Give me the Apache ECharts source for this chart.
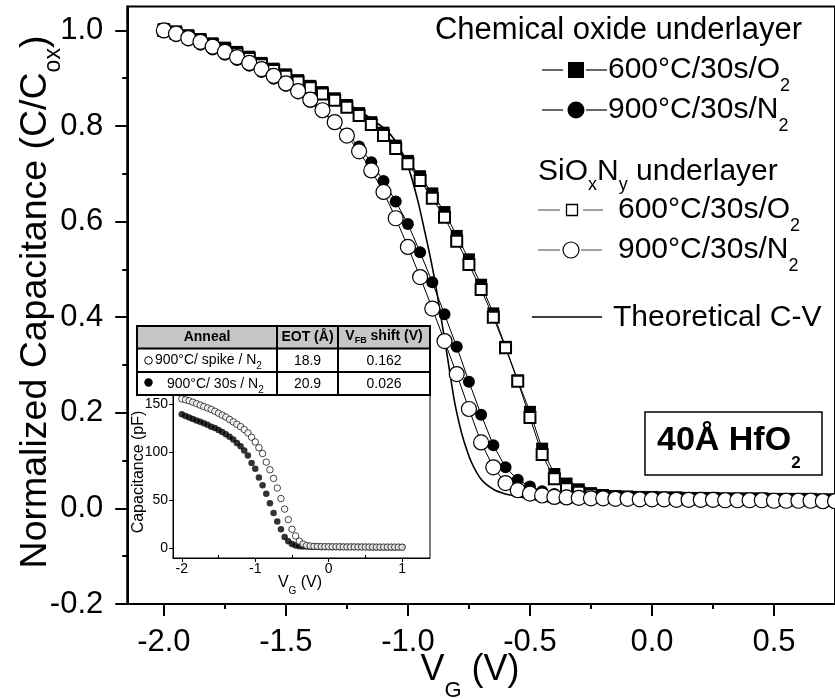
<!DOCTYPE html>
<html><head><meta charset="utf-8">
<script src="https://cdn.jsdelivr.net/npm/echarts@6/dist/echarts.min.js"></script>
<style>html,body{margin:0;padding:0;background:#fff}#c{width:835px;height:699px}</style>
</head><body><div id="c"></div>
<script>
// ---------------- DATA ----------------
const vg = [-2.00,-1.95,-1.90,-1.85,-1.80,-1.75,-1.70,-1.65,-1.60,-1.55,
  -1.50,-1.45,-1.40,-1.35,-1.30,-1.25,-1.20,-1.15,-1.10,-1.05,
  -1.00,-0.95,-0.90,-0.85,-0.80,-0.75,-0.70,-0.65,-0.60,-0.55,
  -0.50,-0.45,-0.40,-0.35,-0.30,-0.25,-0.20,-0.15,-0.10,-0.05,
  0.00,0.05,0.10,0.15,0.20,0.25,0.30,0.35,0.40,0.45,
  0.50,0.55,0.60,0.65,0.70,0.75];
// Chemical oxide underlayer 600°C/30s/O2 (filled squares)
const chemO2 = [1.003,0.998,0.990,0.982,0.973,0.964,0.955,0.945,0.932,0.920,
  0.908,0.896,0.884,0.871,0.858,0.844,0.827,0.808,0.786,0.759,
  0.727,0.695,0.659,0.620,0.570,0.521,0.468,0.408,0.338,0.268,
  0.202,0.125,0.072,0.052,0.040,0.032,0.028,0.026,0.025,0.024,
  0.024,0.023,0.023,0.022,0.022,0.022,0.021,0.021,0.021,0.021,
  0.020,0.020,0.020,0.020,0.019,0.019];
// Chemical oxide underlayer 900°C/30s/N2 (filled circles)
const chemN2 = [0.996,0.988,0.979,0.970,0.960,0.949,0.938,0.926,0.913,0.899,
  0.884,0.868,0.850,0.829,0.806,0.783,0.757,0.724,0.685,0.642,
  0.595,0.536,0.473,0.406,0.338,0.265,0.196,0.132,0.086,0.060,
  0.046,0.036,0.030,0.027,0.025,0.024,0.023,0.022,0.022,0.021,
  0.021,0.020,0.020,0.020,0.019,0.019,0.019,0.019,0.018,0.018,
  0.018,0.018,0.017,0.017,0.017,0.017];
// SiOxNy underlayer 600°C/30s/O2 (open squares)
const sioxnyO2 = [1.000,0.994,0.986,0.978,0.969,0.960,0.951,0.941,0.928,0.916,
  0.904,0.892,0.880,0.867,0.854,0.839,0.822,0.803,0.780,0.753,
  0.721,0.686,0.649,0.609,0.559,0.510,0.458,0.400,0.336,0.266,
  0.190,0.113,0.062,0.041,0.034,0.028,0.025,0.024,0.023,0.022,
  0.022,0.021,0.021,0.020,0.020,0.020,0.019,0.019,0.019,0.019,
  0.018,0.018,0.018,0.018,0.017,0.017];
// SiOxNy underlayer 900°C/30s/N2 (open circles)
const sioxnyN2 = [1.000,0.993,0.984,0.976,0.966,0.955,0.944,0.932,0.919,0.905,
  0.889,0.873,0.855,0.833,0.808,0.780,0.747,0.707,0.662,0.607,
  0.547,0.484,0.418,0.350,0.281,0.208,0.138,0.086,0.053,0.038,
  0.031,0.027,0.024,0.023,0.022,0.021,0.021,0.020,0.020,0.019,
  0.019,0.019,0.018,0.018,0.018,0.018,0.017,0.017,0.017,0.017,
  0.016,0.016,0.016,0.016,0.015,0.015];
// Theoretical C-V
const vgTheory = [-2.0,-1.8,-1.6,-1.4,-1.3,-1.2,-1.1,-1.05,-1.0,-0.96,-0.93,-0.91,-0.89,-0.87,-0.85,
  -0.83,-0.81,-0.79,-0.77,-0.74,-0.70,-0.65,-0.60,-0.55,-0.50,-0.40,-0.20,0.0,0.4,0.75];
const cTheory = [1.000,0.970,0.932,0.888,0.862,0.832,0.796,0.768,0.716,0.645,0.577,0.530,0.478,0.417,0.355,
  0.290,0.226,0.178,0.140,0.097,0.061,0.040,0.030,0.025,0.020,0.013,0.012,0.012,0.011,0.011];

// Inset data
const vgInset = [-2.00,-1.95,-1.90,-1.85,-1.80,-1.75,-1.70,-1.65,-1.60,-1.55,
  -1.50,-1.45,-1.40,-1.35,-1.30,-1.25,-1.20,-1.15,-1.10,-1.05,
  -1.00,-0.95,-0.90,-0.85,-0.80,-0.75,-0.70,-0.65,-0.60,-0.55,
  -0.50,-0.45,-0.40,-0.35,-0.30,-0.25,-0.20,-0.15,-0.10,-0.05,
  0.00,0.05,0.10,0.15,0.20,0.25,0.30,0.35,0.40,0.45,
  0.50,0.55,0.60,0.65,0.70,0.75,0.80,0.85,0.90,0.95,1.00];
const capSpike = [156,155,154,152.5,151,149.5,148,146.5,145,143,
  141,139,137,134.5,132,129.5,127,124,120.5,116,
  111,105,99,90,82,73,63,52,41,30,
  20,13,7.5,4.5,3,2.5,2.2,2,1.9,1.8,
  1.8,1.7,1.7,1.7,1.6,1.6,1.6,1.6,1.5,1.5,
  1.5,1.5,1.5,1.4,1.4,1.4,1.4,1.4,1.4,1.4,1.3];
const cap30s = [140,138,136.5,135,133.5,132,130.5,129,127,125.5,
  123.5,121.5,119,116.5,113.5,110,106.5,102,97,89,
  83,74,66,57,47,37,28,20,12,7.5,
  4.5,3,2.3,2,1.9,1.8,1.7,1.7,1.6,1.6,
  1.6,1.5,1.5,1.5,1.5,1.4,1.4,1.4,1.4,1.4,
  1.4,1.3,1.3,1.3,1.3,1.3,1.3,1.3,1.3,1.3,1.3];

// Ticks
const xMajor = [-2.0,-1.5,-1.0,-0.5,0.0,0.5];
const xMinor = [-1.75,-1.25,-0.75,-0.25,0.25];
const yMajor = [-0.2,0.0,0.2,0.4,0.6,0.8,1.0];
const yMinor = [-0.1,0.1,0.3,0.5,0.7,0.9];
const xInsetMajor = [-2,-1,0,1];
const xInsetMinor = [-1.5,-0.5,0.5];
const yInsetMajor = [0,50,100,150];

// ---------------- CHART ----------------
const FONT = 'Liberation Sans, Arial, sans-serif';
const pairs = (xs, ys) => xs.map((v, i) => [v, ys[i]]);

function rt(x, y, text, size, subSize, subPad, align, extra) {
  return Object.assign({
    type: 'text', x: x, y: y, z: 100, silent: true,
    style: {
      text: text, fill: '#000', fontFamily: FONT, fontSize: size,
      align: align || 'left', verticalAlign: 'top',
      rich: {
        a: {fontSize: size, lineHeight: size, verticalAlign: 'top', fontFamily: FONT, fill: '#000'},
        b: {fontSize: size, lineHeight: size, verticalAlign: 'top', fontFamily: FONT, fill: '#000', fontWeight: 'bold'},
        s: {fontSize: subSize, lineHeight: subSize, padding: [subPad, 0, 0, 0], verticalAlign: 'top', fontFamily: FONT, fill: '#000'},
        sb: {fontSize: subSize, lineHeight: subSize, padding: [subPad, 0, 0, 0], verticalAlign: 'top', fontFamily: FONT, fill: '#000', fontWeight: 'bold'}
      }
    }
  }, extra || {});
}
function hline(x1, x2, y, w, c, z) {
  return {type: 'line', z: z || 100, silent: true, shape: {x1: x1, y1: y, x2: x2, y2: y}, style: {stroke: c || '#000', lineWidth: w || 1}};
}
function vline(x, y1, y2, w, z) {
  return {type: 'line', z: z || 100, silent: true, shape: {x1: x, y1: y1, x2: x, y2: y2}, style: {stroke: '#000', lineWidth: w || 1}};
}
function plain(x, y, text, size, opts) {
  return {type: 'text', x: x, y: y, z: 103, silent: true,
    style: Object.assign({text: text, fontFamily: FONT, fontSize: size, fill: '#000', align: 'center', verticalAlign: 'middle'}, opts || {})};
}

const insetYTitle = plain(139, 472, 'Capacitance (pF)', 16, {});
insetYTitle.rotation = Math.PI / 2;
insetYTitle.z = 100;

const graphics = [
  // Legend
  {type: 'text', x: 802, y: 15, z: 100, silent: true, style: {text: 'Chemical oxide underlayer', fontFamily: FONT, fontSize: 31, fill: '#000', align: 'right', verticalAlign: 'top', lineHeight: 31}},
  hline(542, 563, 70, 1.2), hline(586, 607, 70, 1.2),
  {type: 'rect', z: 100, silent: true, shape: {x: 568, y: 62, width: 16, height: 16}, style: {fill: '#000'}},
  rt(608, 54.4, '{a|600°C/30s/O}{s|2}', 30, 18, 23),
  hline(542, 563, 110, 1.2), hline(586, 607, 110, 1.2),
  {type: 'circle', z: 100, silent: true, shape: {cx: 576, cy: 110, r: 8.5}, style: {fill: '#000'}},
  rt(608, 94.4, '{a|900°C/30s/N}{s|2}', 30, 18, 23),
  rt(538, 156.4, '{a|SiO}{s|x}{a|N}{s|y}{a| underlayer}', 30, 18, 20),
  hline(538, 560, 210, 1, '#444'), hline(583, 603, 210, 1, '#444'),
  {type: 'rect', z: 100, silent: true, shape: {x: 566.5, y: 204.5, width: 11, height: 11}, style: {fill: '#fff', stroke: '#000', lineWidth: 1.3}},
  rt(618, 194.4, '{a|600°C/30s/O}{s|2}', 30, 18, 23),
  hline(538, 560, 250, 1, '#444'), hline(581, 602, 250, 1, '#444'),
  {type: 'circle', z: 100, silent: true, shape: {cx: 571, cy: 250, r: 8}, style: {fill: '#fff', stroke: '#000', lineWidth: 1.2}},
  rt(618, 234.4, '{a|900°C/30s/N}{s|2}', 30, 18, 23),
  hline(532, 602, 317, 1.5),
  {type: 'text', x: 613, y: 302.4, z: 100, silent: true, style: {text: 'Theoretical C-V', fontFamily: FONT, fontSize: 30, fill: '#000', align: 'left', verticalAlign: 'top', lineHeight: 30}},
  // 40Å HfO2 box
  {type: 'rect', z: 100, silent: true, shape: {x: 645, y: 412, width: 177, height: 63}, style: {fill: '#fff', stroke: '#000', lineWidth: 1.5}},
  rt(657, 423.5, '{b|40Å HfO}{sb|2}', 34, 17, 31),
  // Axis titles
  rt(17, 302, '{a|Normalized Capacitance (C/C}{s|ox}{a|)}', 37.5, 23, 25, 'center', {rotation: Math.PI / 2}),
  rt(470, 652, '{a|V}{s|G}{a| (V)}', 36, 22, 28, 'center'),
  // Inset table
  {type: 'rect', z: 100, silent: true, shape: {x: 137, y: 326, width: 293, height: 22}, style: {fill: '#c6c6c6'}},
  {type: 'rect', z: 101, silent: true, shape: {x: 137, y: 349, width: 293, height: 46}, style: {fill: '#fff'}},
  {type: 'rect', z: 102, silent: true, shape: {x: 137, y: 326, width: 293, height: 69}, style: {fill: 'none', stroke: '#000', lineWidth: 2}},
  hline(137, 430, 348.5, 2, '#000', 102), hline(137, 430, 372, 2, '#000', 102),
  vline(277, 326, 395, 2, 102), vline(338, 326, 395, 2, 102),
  plain(207, 337.5, 'Anneal', 14, {fontWeight: 'bold'}),
  plain(307.5, 337.5, 'EOT (Å)', 14, {fontWeight: 'bold'}),
  Object.assign(rt(384, 329.5, '{b|V}{sb|FB}{b| shift (V)}', 14, 9, 7, 'center'), {z: 103}),
  {type: 'circle', z: 103, silent: true, shape: {cx: 148.5, cy: 360.5, r: 3.8}, style: {fill: '#fff', stroke: '#000', lineWidth: 1}},
  Object.assign(rt(155, 353.5, '{a|900°C/ spike / N}{s|2}', 14, 10, 8), {z: 103}),
  {type: 'circle', z: 103, silent: true, shape: {cx: 148.5, cy: 382.5, r: 4.2}, style: {fill: '#000'}},
  Object.assign(rt(167, 377, '{a|900°C/ 30s / N}{s|2}', 14, 10, 8), {z: 103}),
  plain(307.5, 361, '18.9', 14), plain(384, 361, '0.162', 14),
  plain(307.5, 384, '20.9', 14), plain(384, 384, '0.026', 14),
  // Inset axis titles
  insetYTitle,
  rt(300, 575, '{a|V}{s|G}{a| (V)}', 16, 10, 11, 'center')
];

const chart = echarts.init(document.getElementById('c'), null, {renderer: 'canvas'});
const black = '#000';
chart.setOption({
  animation: false,
  backgroundColor: '#fff',
  grid: [
    {left: 127.25, top: 6.5, width: 710.5, height: 597.5, show: true, borderColor: black, borderWidth: 2, backgroundColor: 'transparent'},
    {left: 173, top: 395, width: 257, height: 163, show: true, borderColor: black, borderWidth: 1, backgroundColor: '#fff', z: 5}
  ],
  xAxis: [
    {type: 'value', gridIndex: 0, min: -2.15, max: 0.75, position: 'bottom', splitLine: {show: false},
      axisLine: {onZero: false, lineStyle: {color: black, width: 2}},
      axisTick: {customValues: xMajor, length: 12, lineStyle: {color: black, width: 2}},
      axisLabel: {customValues: xMajor, formatter: v => v.toFixed(1), fontFamily: FONT, fontSize: 31, color: black, margin: 23}},
    {type: 'value', gridIndex: 0, min: -2.15, max: 0.75, position: 'bottom', splitLine: {show: false},
      axisLine: {show: false, onZero: false}, axisLabel: {show: false},
      axisTick: {customValues: xMinor, length: 5, lineStyle: {color: black, width: 2}}},
    {type: 'value', gridIndex: 1, min: -2.12, max: 1.38, position: 'bottom', splitLine: {show: false}, z: 6,
      axisLine: {onZero: false, lineStyle: {color: black, width: 1}},
      axisTick: {customValues: xInsetMajor, length: 4, lineStyle: {color: black, width: 1}},
      axisLabel: {customValues: xInsetMajor, fontFamily: FONT, fontSize: 14, color: black, margin: 4}},
    {type: 'value', gridIndex: 1, min: -2.12, max: 1.38, position: 'bottom', splitLine: {show: false}, z: 6,
      axisLine: {show: false, onZero: false}, axisLabel: {show: false},
      axisTick: {customValues: xInsetMinor, length: 3, inside: true, lineStyle: {color: black, width: 1}}}
  ],
  yAxis: [
    {type: 'value', gridIndex: 0, min: -0.2, max: 1.05, position: 'left', splitLine: {show: false},
      axisLine: {show: true, onZero: false, lineStyle: {color: black, width: 2}},
      axisTick: {show: true, customValues: yMajor, length: 12, lineStyle: {color: black, width: 2}},
      axisLabel: {customValues: yMajor, formatter: v => v.toFixed(1), fontFamily: FONT, fontSize: 31, color: black, margin: 24}},
    {type: 'value', gridIndex: 0, min: -0.2, max: 1.05, position: 'left', splitLine: {show: false},
      axisLine: {show: false, onZero: false}, axisLabel: {show: false},
      axisTick: {show: true, customValues: yMinor, length: 5, lineStyle: {color: black, width: 2}}},
    {type: 'value', gridIndex: 1, min: -10, max: 160, position: 'left', splitLine: {show: false}, z: 6,
      axisLine: {show: true, onZero: false, lineStyle: {color: black, width: 1}},
      axisTick: {show: true, customValues: yInsetMajor, length: 4, lineStyle: {color: black, width: 1}},
      axisLabel: {customValues: yInsetMajor, fontFamily: FONT, fontSize: 14, color: black, margin: 5}}
  ],
  graphic: graphics,
  series: [
    {name: 'Chem 600°C/30s/O2', type: 'line', xAxisIndex: 0, yAxisIndex: 0, data: pairs(vg, chemO2),
      symbol: 'rect', symbolSize: 12, showSymbol: true, showAllSymbol: true,
      itemStyle: {color: black}, lineStyle: {color: black, width: 1}},
    {name: 'SiOxNy 600°C/30s/O2', type: 'line', xAxisIndex: 0, yAxisIndex: 0, data: pairs(vg, sioxnyO2),
      symbol: 'rect', symbolSize: 11, showSymbol: true, showAllSymbol: true,
      itemStyle: {color: '#fff', borderColor: black, borderWidth: 2}, lineStyle: {color: black, width: 1}},
    {name: 'Chem 900°C/30s/N2', type: 'line', xAxisIndex: 0, yAxisIndex: 0, data: pairs(vg, chemN2),
      symbol: 'circle', symbolSize: 12, showSymbol: true, showAllSymbol: true,
      itemStyle: {color: black}, lineStyle: {color: black, width: 1}},
    {name: 'SiOxNy 900°C/30s/N2', type: 'line', xAxisIndex: 0, yAxisIndex: 0, data: pairs(vg, sioxnyN2),
      symbol: 'circle', symbolSize: 15, showSymbol: true, showAllSymbol: true,
      itemStyle: {color: '#fff', borderColor: black, borderWidth: 1.2}, lineStyle: {color: black, width: 1}},
    {name: 'Theoretical C-V', type: 'line', xAxisIndex: 0, yAxisIndex: 0, data: pairs(vgTheory, cTheory),
      symbol: 'none', smooth: 0.3, lineStyle: {color: black, width: 1.6}},
    {name: '900°C/ 30s / N2', type: 'scatter', xAxisIndex: 2, yAxisIndex: 2, data: pairs(vgInset, cap30s), z: 7,
      symbol: 'circle', symbolSize: 6.5, itemStyle: {color: black}},
    {name: '900°C/ spike / N2', type: 'scatter', xAxisIndex: 2, yAxisIndex: 2, data: pairs(vgInset, capSpike), z: 8,
      symbol: 'circle', symbolSize: 6.5, itemStyle: {color: '#fff', borderColor: black, borderWidth: 0.9}}
  ]
});
</script>
</body></html>
